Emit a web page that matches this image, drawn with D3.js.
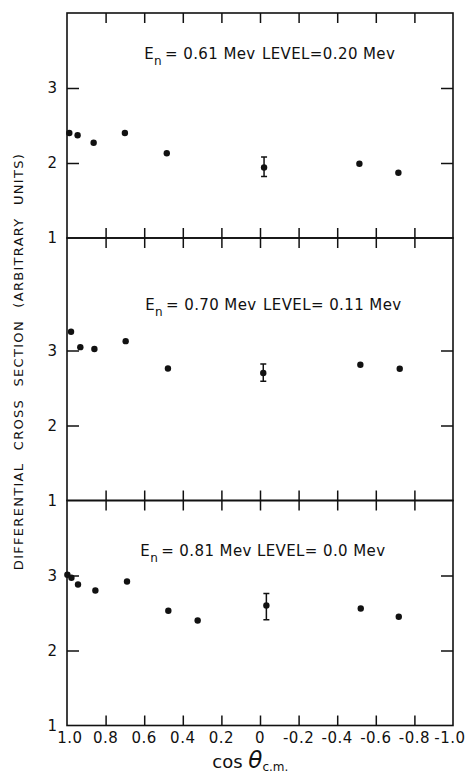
<!DOCTYPE html>
<html>
<head>
<meta charset="utf-8">
<script src="https://cdn.jsdelivr.net/npm/d3@7/dist/d3.min.js"></script>
<style>
  html, body { margin: 0; padding: 0; background: #fff; }
  svg { display: block; }
  text { font-family: "DejaVu Sans", "Liberation Sans", sans-serif; fill: #111; }
</style>
</head>
<body>
<svg id="chart" width="466" height="773"></svg>
<script>
// Angular distributions of inelastically / elastically scattered neutrons
const panelEnergy = ["= 0.61 Mev", "= 0.70 Mev", "= 0.81 Mev"];
const panelLevel  = ["LEVEL=0.20 Mev", "LEVEL= 0.11 Mev", "LEVEL= 0.0 Mev"];

// Panel 1: En = 0.61 Mev, level 0.20 Mev
const cosTheta1 = [0.988, 0.945, 0.862, 0.700, 0.483, -0.021, -0.515, -0.717];
const sigma1    = [2.40, 2.37, 2.27, 2.40, 2.13, 1.94, 1.99, 1.87];
const errLow1   = [null, null, null, null, null, 1.82, null, null];
const errHigh1  = [null, null, null, null, null, 2.08, null, null];

// Panel 2: En = 0.70 Mev, level 0.11 Mev
const cosTheta2 = [0.979, 0.931, 0.858, 0.696, 0.477, -0.017, -0.520, -0.724];
const sigma2    = [3.25, 3.045, 3.02, 3.125, 2.76, 2.70, 2.81, 2.757];
const errLow2   = [null, null, null, null, null, 2.59, null, null];
const errHigh2  = [null, null, null, null, null, 2.82, null, null];

// Panel 3: En = 0.81 Mev, level 0.0 Mev (elastic)
const cosTheta3 = [0.998, 0.977, 0.943, 0.853, 0.689, 0.475, 0.323, -0.033, -0.522, -0.719];
const sigma3    = [3.01, 2.97, 2.88, 2.80, 2.92, 2.53, 2.40, 2.60, 2.56, 2.45];
const errLow3   = [null, null, null, null, null, null, null, 2.41, null, null];
const errHigh3  = [null, null, null, null, null, null, null, 2.76, null, null];

const xTickValues = [1.0, 0.8, 0.6, 0.4, 0.2, 0, -0.2, -0.4, -0.6, -0.8, -1.0];
const xTickLabels = ["1.0", "0.8", "0.6", "0.4", "0.2", "0", "-0.2", "-0.4", "-0.6", "-0.8", "-1.0"];
const yTickValues = [1, 2, 3];
const yDomains = [[1, 4], [1, 4.5], [1, 4]];

const series = [
  { x: cosTheta1, y: sigma1, lo: errLow1, hi: errHigh1 },
  { x: cosTheta2, y: sigma2, lo: errLow2, hi: errHigh2 },
  { x: cosTheta3, y: sigma3, lo: errLow3, hi: errHigh3 }
];

const svg = d3.select("#chart");
const plotLeft = 67, plotRight = 453;
const plotTop = 13, pxPerUnit = 75;

const x = d3.scaleLinear().domain([1, -1]).range([plotLeft, plotRight]);

// stack the panels: each panel's height follows its y-range
let yCursor = plotTop;
const panels = yDomains.map(dom => {
  const h = (dom[1] - dom[0]) * pxPerUnit;
  const p = { top: yCursor, bottom: yCursor + h, dom };
  yCursor += h;
  return p;
});

const ink = "#111";
const noteOffset = [46, 72, 55];
const noteStart = [0.6, 0.595, 0.62];
const levelStart = [-0.01, -0.016, 0.016];

panels.forEach((p, i) => {
  const y = d3.scaleLinear().domain(p.dom).range([p.bottom, p.top]);
  const g = svg.append("g");

  // frame
  g.append("rect")
    .attr("x", plotLeft).attr("y", p.top)
    .attr("width", plotRight - plotLeft).attr("height", p.bottom - p.top)
    .attr("fill", "none").attr("stroke", ink).attr("stroke-width", 1.6);

  // x ticks on top and bottom edges, pointing inward
  const inner = xTickValues.filter(v => v > -1 && v < 1);
  g.append("g").attr("transform", `translate(0,${p.top})`)
    .call(d3.axisBottom(x).tickValues(inner).tickSize(10).tickFormat(""))
    .call(a => a.select(".domain").remove())
    .call(a => a.selectAll("line").attr("stroke", ink).attr("stroke-width", 1.5));
  g.append("g").attr("transform", `translate(0,${p.bottom})`)
    .call(d3.axisTop(x).tickValues(inner).tickSize(10).tickFormat(""))
    .call(a => a.select(".domain").remove())
    .call(a => a.selectAll("line").attr("stroke", ink).attr("stroke-width", 1.5));

  // y ticks on left and right edges, pointing inward
  const yInner = yTickValues.filter(v => v > p.dom[0] && v < p.dom[1]);
  g.append("g").attr("transform", `translate(${plotLeft},0)`)
    .call(d3.axisRight(y).tickValues(yInner).tickSize(12).tickFormat(""))
    .call(a => a.select(".domain").remove())
    .call(a => a.selectAll("line").attr("stroke", ink).attr("stroke-width", 1.5));
  g.append("g").attr("transform", `translate(${plotRight},0)`)
    .call(d3.axisLeft(y).tickValues(yInner).tickSize(12).tickFormat(""))
    .call(a => a.select(".domain").remove())
    .call(a => a.selectAll("line").attr("stroke", ink).attr("stroke-width", 1.5));

  // y tick labels (including the baseline value 1)
  g.selectAll("text.ylab")
    .data(yTickValues.filter(v => v >= p.dom[0] && v < p.dom[1]))
    .enter().append("text")
    .attr("class", "ylab")
    .attr("x", plotLeft - 10)
    .attr("y", v => y(v))
    .attr("dy", "0.36em")
    .attr("text-anchor", "end")
    .style("font-size", "15px")
    .text(v => v);

  // data points
  const s = series[i];
  const pts = s.x.map((c, k) => ({ c, v: s.y[k], lo: s.lo[k], hi: s.hi[k] }));

  pts.filter(d => d.lo != null).forEach(d => {
    g.append("line")
      .attr("x1", x(d.c)).attr("x2", x(d.c))
      .attr("y1", y(d.lo)).attr("y2", y(d.hi))
      .attr("stroke", ink).attr("stroke-width", 1.5);
    [d.lo, d.hi].forEach(e => {
      g.append("line")
        .attr("x1", x(d.c) - 3).attr("x2", x(d.c) + 3)
        .attr("y1", y(e)).attr("y2", y(e))
        .attr("stroke", ink).attr("stroke-width", 1.5);
    });
  });

  g.selectAll("circle")
    .data(pts).enter().append("circle")
    .attr("cx", d => x(d.c)).attr("cy", d => y(d.v))
    .attr("r", 3.2).attr("fill", ink);

  // panel annotation: neutron energy and excited level
  const ny = p.top + noteOffset[i];
  const txt = g.append("text")
    .attr("x", x(noteStart[i]))
    .attr("y", ny)
    .style("font-size", "15px")
    .style("letter-spacing", "0.4px");
  txt.append("tspan").text("E");
  txt.append("tspan").attr("dy", 6).style("font-size", "12px").text("n");
  txt.append("tspan").attr("dy", -6).attr("dx", 3).text(panelEnergy[i]);

  g.append("text")
    .attr("x", x(levelStart[i]))
    .attr("y", ny)
    .style("font-size", "15px")
    .style("letter-spacing", "0.4px")
    .text(panelLevel[i]);
});

// x tick labels under the bottom panel
const last = panels[panels.length - 1];
svg.selectAll("text.xlab")
  .data(xTickValues).enter().append("text")
  .attr("class", "xlab")
  .attr("x", (v, k) => x(v) + (k === 0 ? 3 : (k === xTickValues.length - 1 ? -3 : 0)))
  .attr("y", last.bottom + 17)
  .attr("text-anchor", "middle")
  .style("font-size", "15px")
  .style("letter-spacing", "0.5px")
  .text((v, k) => xTickLabels[k]);

// x axis title
const xt = svg.append("text")
  .attr("x", x(0.05))
  .attr("y", last.bottom + 42)
  .attr("text-anchor", "middle")
  .style("font-size", "18px");
xt.append("tspan").text("cos ");
xt.append("tspan").style("font-style", "italic").style("font-size", "23px").text("θ");
xt.append("tspan").attr("dy", 3).style("font-size", "12px").text("c.m.");

// y axis title
const yMid = (148 + 575) / 2;
svg.append("text")
  .attr("transform", `translate(23,${yMid}) rotate(-90)`)
  .attr("text-anchor", "middle")
  .style("font-size", "13px")
  .style("letter-spacing", "1.3px")
  .style("word-spacing", "7px")
  .text("DIFFERENTIAL CROSS SECTION (ARBITRARY UNITS)");
</script>
</body>
</html>
